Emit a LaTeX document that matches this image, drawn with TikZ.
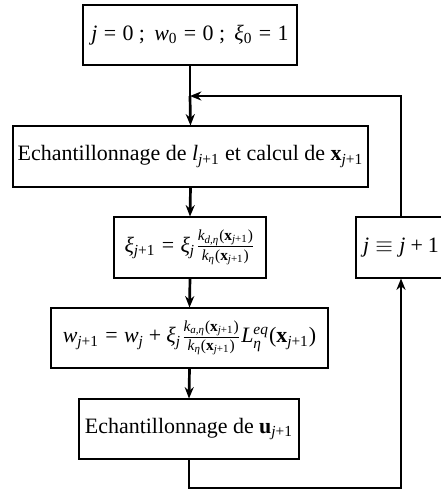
\documentclass[tikz,border=0pt]{standalone}
\usepackage[no-math]{fontspec}
\setmainfont{Liberation Serif}
\newfontfamily\lsr{Liberation Serif}[NFSSFamily=lsr]
\DeclareSymbolFont{operators}{TU}{lsr}{m}{n}
\DeclareSymbolFont{letters}{TU}{lsr}{m}{it}
\DeclareMathAlphabet{\mathbf}{TU}{lsr}{b}{n}
\Umathchardef\myxi="0 \symletters "03BE
\Umathchardef\myeta="0 \symletters "03B7
\mathcode`,="612C
\usetikzlibrary{arrows.meta}
\begin{document}
\begin{tikzpicture}[x=0.483pt,y=-0.483pt,
  box/.style={draw, line width=0.5pt, inner sep=0pt, font=\fontsize{10.6}{12.7}\selectfont},
  link/.style={line width=1.3pt},
  flow/.style={line width=1.3pt, -{Stealth[length=5.5pt,width=4.4pt]}}]
\useasboundingbox (0,0) rectangle (440,492);
\node[box, minimum width=214*0.483pt, minimum height=60*0.483pt] (b1) at (190,35)
  {$j=0\ ;\ w_0=0\ ;\ \myxi_0=1$};
\node[box, minimum width=355*0.483pt, minimum height=61*0.483pt] (b2) at (190.5,156.5)
  {Echantillonnage de $l_{j+1}$ et calcul de $\mathbf{x}_{j+1}$};
\node[box, minimum width=152*0.483pt, minimum height=61*0.483pt] (b3) at (190,247.5)
  {$\myxi_{j+1}=\myxi_j\frac{k_{d,\myeta}(\mathbf{x}_{j+1})}{k_\myeta(\mathbf{x}_{j+1})}$};
\node[box, minimum width=277*0.483pt, minimum height=60*0.483pt] (b4) at (189.5,338)
  {$w_{j+1}=w_j+\myxi_j\frac{k_{a,\myeta}(\mathbf{x}_{j+1})}{k_\myeta(\mathbf{x}_{j+1})}L_\myeta^{eq}(\mathbf{x}_{j+1})$};
\node[box, minimum width=220*0.483pt, minimum height=60*0.483pt] (b5) at (189,429)
  {Echantillonnage de $\mathbf{u}_{j+1}$};
\node[box, minimum width=90*0.483pt, minimum height=61*0.483pt] (b6) at (401,247.5)
  {$j\equiv j+1$};
\coordinate (jn) at (190,96);
\coordinate (br) at (401,488);
\draw[link] (b1.south) -- (jn);
\draw[flow] (jn) -- (b2.north);
\draw[flow] (b2.south) -- (b3.north);
\draw[flow] (b3.south) -- (b4.north);
\draw[flow] (b4.south) -- (b5.north);
\draw[flow] (b5.south) |- (br) -- (b6.south);
\draw[flow] (b6.north) |- (jn);
\end{tikzpicture}
\end{document}
